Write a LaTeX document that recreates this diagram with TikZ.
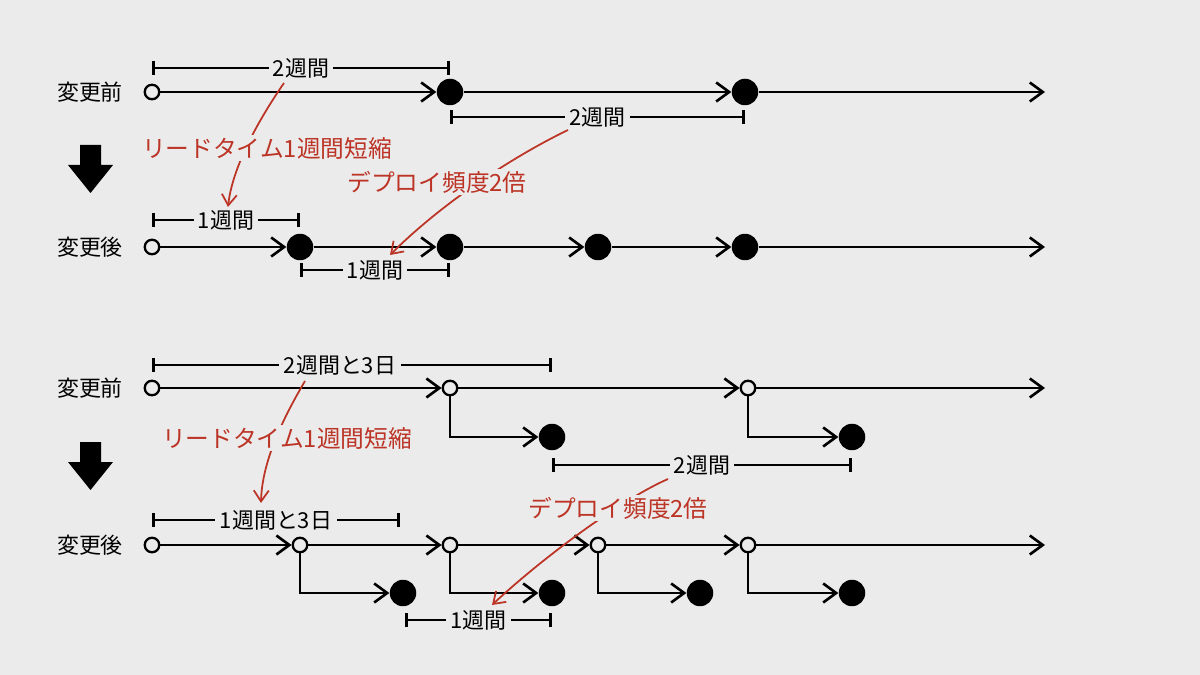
\documentclass[tikz,border=0pt]{standalone}
\usepackage{fontspec}
\setmainfont{Noto Sans CJK JP}
\usepackage{tikz}
\usetikzlibrary{arrows.meta, calc}
\definecolor{BgGray}{RGB}{235,235,235}
\definecolor{NoteRed}{RGB}{188,52,38}

\begin{document}
\begin{tikzpicture}[x=0.02cm, y=-0.02cm,
          dot/.style={circle, fill=black, minimum size=5.3mm, inner sep=0pt},
          hole/.style={circle, draw=black, line width=1.3pt, fill=BgGray,
                       minimum size=2.9mm, inner sep=0pt},
          arr/.style={-{Straight Barb[length=2.6mm, width=3.8mm]}, line width=1.5pt},
          span/.style={{Bar[width=2.8mm]}-{Bar[width=2.8mm]}, line width=1.5pt},
          lbl/.style={fill=BgGray, inner sep=2.5pt, font=\fontsize{12.5}{14}\selectfont},
          row/.style={font=\fontsize{12.5}{14}\selectfont},
          note/.style={fill=BgGray, inner sep=1pt, text=NoteRed,
                       font=\fontsize{13.5}{16}\selectfont},
          redarr/.style={-{Straight Barb[length=2.2mm, width=3mm]}, NoteRed, line width=1pt}
        ]
        \fill[BgGray] (0,0) rectangle (1200,675);
        \useasboundingbox (0,0) rectangle (1200,675);

        % row labels and down arrows
        \node[row] (r1) at (90,92)  {変更前};
        \node[row] (r2) at (90,247) {変更後};
        \node[row] (r3) at (90,388) {変更前};
        \node[row] (r4) at (90,545) {変更後};
        \foreach \y in {145, 442} {
          \fill (80,\y) -- (101,\y) -- (101,\y+20) -- (113,\y+20)
                -- (90.5,\y+48) -- (68,\y+20) -- (80,\y+20) -- cycle;
        }

        % Before (deploy = release)
        \node[hole] (a0) at (152,92) {};
        \node[dot]  (a1) at (450,92) {};
        \node[dot]  (a2) at (745,92) {};
        \coordinate (aend) at (1045,92);
        \foreach \u/\v in {a0/a1, a1/a2, a2/aend} {
          \draw[arr] (\u) -- (\v);
        }
        \draw[span] ($(a0)+(0,-24)$) -- node[lbl] (wa1) {2週間} ($(a1)+(0,-24)$);
        \draw[span] ($(a1)+(0,25)$) -- node[lbl] (wa2) {2週間} ($(a2)+(0,25)$);

        % After
        \node[hole] (b0) at (152,247) {};
        \node[dot]  (b1) at (300,247) {};
        \node[dot]  (b2) at (450,247) {};
        \node[dot]  (b3) at (598,247) {};
        \node[dot]  (b4) at (745,247) {};
        \coordinate (bend) at (1045,247);
        \foreach \u/\v in {b0/b1, b1/b2, b2/b3, b3/b4, b4/bend} {
          \draw[arr] (\u) -- (\v);
        }
        \draw[span] ($(b0)+(0,-27)$) -- node[lbl] (wb1) {1週間} ($(b1)+(0,-27)$);
        \draw[span] ($(b1)+(0,23)$) -- node[lbl] (wb2) {1週間} ($(b2)+(0,23)$);

        % Before (deploy branches off)
        \node[hole] (c0) at (152,388) {};
        \node[hole] (c1) at (450,388) {};
        \node[hole] (c2) at (748,388) {};
        \coordinate (cend) at (1045,388);
        \node[dot]  (c1f) at (552,437) {};
        \node[dot]  (c2f) at (852,437) {};
        \foreach \u/\v in {c0/c1, c1/c2, c2/cend} {
          \draw[arr] (\u) -- (\v);
        }
        \foreach \u in {c1, c2} {
          \draw[arr] (\u) |- (\u f);
        }
        \draw[span] ($(c0)+(0,-23)$) -- node[lbl, pos=0.47] (wc1) {2週間と3日} ($(c1f)+(0,-72)$);
        \draw[span] ($(c1f)+(0,28)$) -- node[lbl] (wc2) {2週間} ($(c2f)+(0,28)$);

        % After
        \node[hole] (d0) at (152,545) {};
        \node[hole] (d1) at (300,545) {};
        \node[hole] (d2) at (450,545) {};
        \node[hole] (d3) at (598,545) {};
        \node[hole] (d4) at (748,545) {};
        \coordinate (dend) at (1045,545);
        \node[dot]  (d1f) at (403,593) {};
        \node[dot]  (d2f) at (552,593) {};
        \node[dot]  (d3f) at (700,593) {};
        \node[dot]  (d4f) at (852,593) {};
        \foreach \u/\v in {d0/d1, d1/d2, d2/d3, d3/d4, d4/dend} {
          \draw[arr] (\u) -- (\v);
        }
        \foreach \u in {d1, d2, d3, d4} {
          \draw[arr] (\u) |- (\u f);
        }
        \draw[span] ($(d0)+(0,-25)$) -- node[lbl] (wd1) {1週間と3日} ($(d1f)+(-3,-73)$);
        \draw[span] ($(d1f)+(2,27)$) -- node[lbl] (wd2) {1週間} ($(d2f)+(0,27)$);

        % red notes
        \coordinate (n1s) at (284,83);   \coordinate (n1e) at (228,207);
        \coordinate (n2s) at (568,130);  \coordinate (n2e) at (390,255);
        \coordinate (n3s) at (305,381);  \coordinate (n3e) at (261,503);
        \coordinate (n4s) at (668,479);  \coordinate (n4e) at (492,605);
        \draw[redarr] (n1s) .. controls (255,125) and (232,170) .. (n1e);
        \draw[redarr] (n2s) .. controls (510,158) and (440,205) .. (n2e);
        \draw[redarr] (n3s) .. controls (285,415) and (262,460) .. (n3e);
        \draw[redarr] (n4s) .. controls (620,500) and (540,560) .. (n4e);
        \node[note] (lt1) at (267,148) {リードタイム1週間短縮};
        \node[note] (df1) at (437,182) {デプロイ頻度2倍};
        \node[note] (lt2) at (287,438) {リードタイム1週間短縮};
        \node[note] (df2) at (618,508) {デプロイ頻度2倍};
      \end{tikzpicture}
\end{document}
